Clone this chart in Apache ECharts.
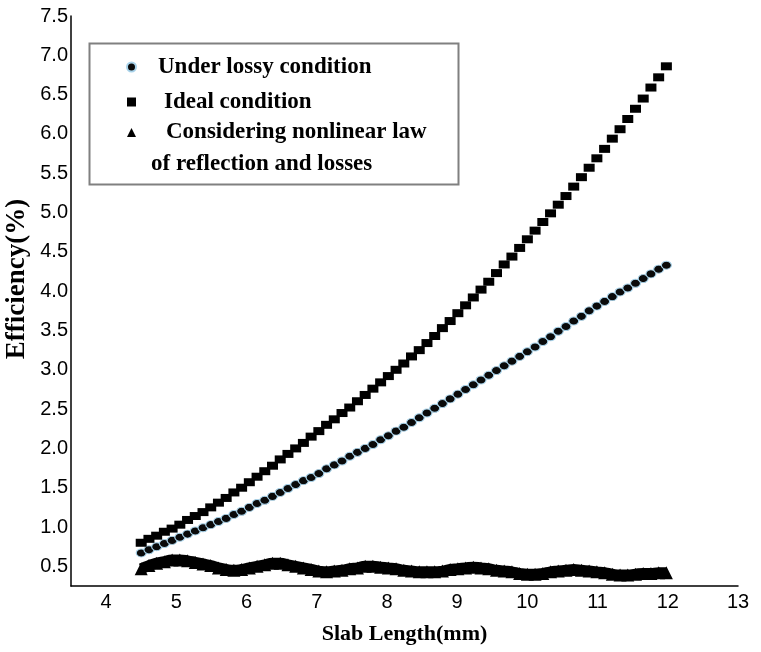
<!DOCTYPE html>
<html>
<head>
<meta charset="utf-8">
<script src="https://cdn.jsdelivr.net/npm/echarts@6/dist/echarts.min.js"></script>
<style>
html,body{margin:0;padding:0;background:#fff;}
#chart{width:761px;height:652px;}
</style>
</head>
<body>
<div id="chart"></div>
<script>
// Slab length (mm) sample positions
const slabLength = [4.50,4.61,4.72,4.83,4.94,5.05,5.16,5.27,5.38,5.49,5.60,5.71,5.82,5.93,6.04,6.15,6.26,6.37,6.48,6.59,6.70,6.81,6.92,7.03,7.14,7.25,7.36,7.47,7.58,7.69,7.80,7.91,8.02,8.13,8.24,8.35,8.46,8.57,8.68,8.79,8.90,9.01,9.12,9.23,9.34,9.45,9.56,9.67,9.78,9.89,10.00,10.11,10.22,10.33,10.44,10.55,10.66,10.77,10.88,10.99,11.10,11.21,11.32,11.43,11.54,11.65,11.76,11.87,11.98];

// Efficiency (%) under lossy condition
const lossy = [0.67,0.71,0.75,0.79,0.83,0.87,0.91,0.95,0.99,1.03,1.07,1.11,1.16,1.20,1.25,1.30,1.34,1.39,1.44,1.49,1.54,1.59,1.63,1.68,1.74,1.79,1.84,1.90,1.95,2.00,2.05,2.11,2.16,2.22,2.27,2.33,2.39,2.45,2.51,2.57,2.63,2.69,2.75,2.81,2.87,2.93,2.99,3.05,3.11,3.17,3.23,3.29,3.36,3.42,3.49,3.55,3.62,3.68,3.75,3.81,3.87,3.93,3.99,4.04,4.10,4.16,4.22,4.28,4.33];

// Efficiency (%) under ideal condition
const ideal = [0.80,0.85,0.89,0.94,0.98,1.03,1.09,1.14,1.19,1.25,1.31,1.37,1.44,1.50,1.57,1.64,1.71,1.78,1.86,1.93,2.00,2.07,2.15,2.22,2.30,2.37,2.45,2.52,2.60,2.68,2.76,2.84,2.92,3.00,3.08,3.17,3.25,3.34,3.43,3.53,3.62,3.72,3.82,3.92,4.02,4.12,4.23,4.34,4.44,4.55,4.66,4.77,4.88,4.99,5.10,5.21,5.33,5.45,5.57,5.69,5.81,5.94,6.06,6.19,6.32,6.45,6.59,6.72,6.86];

// Efficiency (%) considering nonlinear law of reflection and losses
const nonlinear = [0.47,0.51,0.54,0.56,0.58,0.58,0.57,0.55,0.53,0.51,0.48,0.46,0.45,0.46,0.48,0.50,0.52,0.54,0.54,0.52,0.50,0.48,0.46,0.44,0.43,0.44,0.45,0.47,0.48,0.50,0.50,0.49,0.48,0.47,0.45,0.44,0.43,0.43,0.43,0.44,0.46,0.47,0.48,0.49,0.48,0.47,0.45,0.44,0.43,0.41,0.40,0.40,0.41,0.43,0.44,0.45,0.46,0.45,0.44,0.43,0.42,0.40,0.39,0.39,0.40,0.41,0.41,0.42,0.42];

const xTicks = [4,5,6,7,8,9,10,11,12,13];
const yTicks = [0.5,1.0,1.5,2.0,2.5,3.0,3.5,4.0,4.5,5.0,5.5,6.0,6.5,7.0,7.5];

const seriesNames = ['Under lossy condition', 'Ideal condition', 'Considering nonlinear law'];
const legendSecondLine = 'of reflection and losses';

const pairs = (ys) => slabLength.map((x, i) => [x, ys[i]]);

const chart = echarts.init(document.getElementById('chart'), null, {renderer: 'canvas'});
const serif = '"Liberation Serif", "Times New Roman", serif';
const sans = '"Liberation Sans", Arial, sans-serif';

chart.setOption({
  animation: false,
  backgroundColor: '#fff',
  grid: {left: 71, right: 23, top: 16, bottom: 66, containLabel: false, outerBoundsMode: 'none'},
  xAxis: {
    type: 'value', min: 3.5, max: 13,
    name: 'Slab Length(mm)', nameLocation: 'middle', nameGap: 37, nameMoveOverlap: false,
    nameTextStyle: {fontFamily: serif, fontWeight: 'bold', fontSize: 22, color: '#000'},
    axisLine: {show: true, onZero: false, lineStyle: {color: '#000', width: 1.5}},
    axisTick: {show: false},
    splitLine: {show: false},
    axisLabel: {customValues: xTicks, color: '#000', fontFamily: sans, fontSize: 20, margin: 6}
  },
  yAxis: {
    type: 'value', min: 0.25, max: 7.5,
    name: 'Efficiency(%)', nameLocation: 'middle', nameGap: 40, nameMoveOverlap: false,
    nameTextStyle: {fontFamily: serif, fontWeight: 'bold', fontSize: 27, color: '#000', padding: [0, 0, 0, 44]},
    axisLine: {show: true, onZero: false, lineStyle: {color: '#000', width: 1.5}},
    axisTick: {show: false},
    splitLine: {show: false},
    axisLabel: {customValues: yTicks, color: '#000', fontFamily: sans, fontSize: 20, margin: 3,
      formatter: v => v.toFixed(1)}
  },
  legend: {
    orient: 'vertical', left: 121, top: 44,
    itemWidth: 9, itemHeight: 9, itemGap: 0,
    textStyle: {fontFamily: serif, fontWeight: 'bold', fontSize: 23, color: '#000'},
    data: [
      {name: seriesNames[0], icon: 'circle', textStyle: {padding: [0, 0, 0, 17], lineHeight: 36}},
      {name: seriesNames[1], icon: 'rect', textStyle: {padding: [0, 0, 0, 23], lineHeight: 34}},
      {name: seriesNames[2], icon: 'triangle', textStyle: {padding: [0, 0, 0, 25], lineHeight: 27}}
    ]
  },
  graphic: [
    {type: 'rect', left: 87, top: 41, shape: {width: 369, height: 141},
     style: {fill: 'none', stroke: '#808080', lineWidth: 2}, z: 10},
    {type: 'text', left: 151, top: 153,
     style: {text: legendSecondLine, font: 'bold 23px ' + serif, fill: '#000'}, z: 10}
  ],
  series: [
    {
      name: seriesNames[0], type: 'scatter', data: pairs(lossy),
      symbol: 'circle', symbolSize: [10, 8],
      itemStyle: {color: '#0a0a0a', borderColor: '#a9d3ea', borderWidth: 1, opacity: 1}
    },
    {
      name: seriesNames[1], type: 'scatter', data: pairs(ideal),
      symbol: 'rect', symbolSize: [11, 8],
      itemStyle: {color: '#000', opacity: 1}
    },
    {
      name: seriesNames[2], type: 'line', data: pairs(nonlinear),
      smooth: true, showSymbol: true, symbol: 'triangle', symbolSize: 13,
      lineStyle: {color: '#000', width: 11},
      itemStyle: {color: '#000', opacity: 1}
    }
  ]
});
</script>
</body>
</html>
